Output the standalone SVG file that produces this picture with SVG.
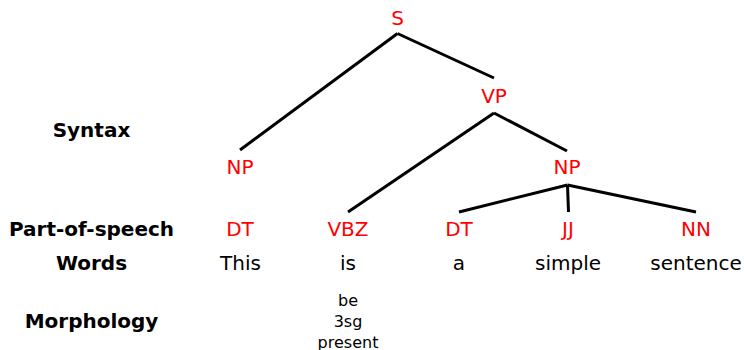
<svg xmlns="http://www.w3.org/2000/svg" width="744" height="350" viewBox="0 0 744 350">
  <style>
    text { font-family: "DejaVu Sans", "Liberation Sans", sans-serif; text-anchor: middle; }
    .cat { fill: #ff0000; font-size: 20px; }
    .word { fill: #000000; font-size: 20px; }
    .morph { fill: #000000; font-size: 16px; }
    .level { fill: #000000; font-size: 20px; font-weight: bold; }
    .edge { stroke: #000000; stroke-width: 3; fill: none; stroke-linecap: butt; }
  </style>
  <rect width="744" height="350" fill="#ffffff"/>

  <!-- level labels -->
  <g id="levels">
    <text class="level" x="91.5" y="137">Syntax</text>
    <text class="level" x="91.5" y="236">Part-of-speech</text>
    <text class="level" x="91.5" y="270">Words</text>
    <text class="level" x="91.5" y="328">Morphology</text>
  </g>

  <!-- tree edges -->
  <g id="connectors">
    <line class="edge" x1="397.5" y1="33.5" x2="240" y2="150"/>
    <line class="edge" x1="397.5" y1="33.5" x2="494" y2="78"/>
    <line class="edge" x1="494" y1="113" x2="348" y2="212"/>
    <line class="edge" x1="494" y1="113" x2="567" y2="151"/>
    <line class="edge" x1="567.5" y1="185" x2="459" y2="212"/>
    <line class="edge" x1="567.5" y1="185" x2="568.5" y2="212"/>
    <line class="edge" x1="567.5" y1="185" x2="696" y2="212"/>
  </g>

  <!-- phrase nodes -->
  <g id="node-S"><text class="cat" x="397.5" y="25">S</text></g>
  <g id="node-VP"><text class="cat" x="494" y="103">VP</text></g>
  <g id="node-NP1"><text class="cat" x="240" y="174">NP</text></g>
  <g id="node-NP2"><text class="cat" x="567" y="174">NP</text></g>

  <!-- part-of-speech tags -->
  <g id="node-DT1"><text class="cat" x="240" y="236">DT</text></g>
  <g id="node-VBZ"><text class="cat" x="348" y="236">VBZ</text></g>
  <g id="node-DT2"><text class="cat" x="459" y="236">DT</text></g>
  <g id="node-JJ"><text class="cat" x="568" y="236">JJ</text></g>
  <g id="node-NN"><text class="cat" x="696" y="236">NN</text></g>

  <!-- words -->
  <g id="word-this"><text class="word" x="240.5" y="270">This</text></g>
  <g id="word-is"><text class="word" x="348" y="270">is</text></g>
  <g id="word-a"><text class="word" x="459" y="270">a</text></g>
  <g id="word-simple"><text class="word" x="568" y="270">simple</text></g>
  <g id="word-sentence"><text class="word" x="696" y="270">sentence</text></g>

  <!-- morphology of "is" -->
  <g id="morph-is">
    <text class="morph" x="348" y="306">be</text>
    <text class="morph" x="348" y="327">3sg</text>
    <text class="morph" x="348" y="348">present</text>
  </g>
</svg>
